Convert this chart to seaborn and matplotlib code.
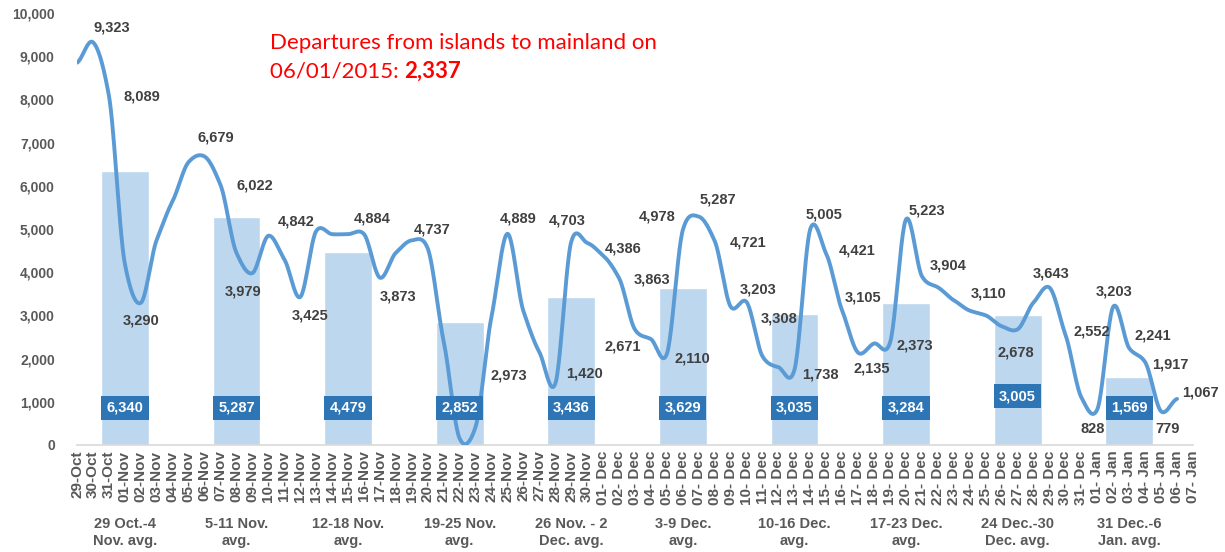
import numpy as np
import pandas as pd
import matplotlib
matplotlib.use("Agg")
import matplotlib.pyplot as plt
import seaborn as sns

# daily departures, 29-Oct-2014 .. 06-Jan-2015
days = pd.date_range("2014-10-29", "2015-01-07")
day_labels = [d.strftime("%d-%b") if d.month in (10, 11) else d.strftime("%d- %b") for d in days]

daily = [
    8850, 9323, 8089, 4200, 3290, 4750, 5650, 6550, 6679, 6022,
    4450, 3979, 4842, 4300, 3425, 4950, 4880, 4880, 4884, 3873,
    4450, 4737, 4550, 2400, 150, 420, 2973, 4889, 3100, 2150,
    1420, 4703, 4680, 4386, 3863, 2671, 2450, 2110, 4978, 5287,
    4721, 3203, 3308, 2050, 1800, 1738, 5005, 4421, 3105, 2135,
    2350, 2373, 5223, 3904, 3650, 3350, 3110, 3000, 2750, 2678,
    3300, 3643, 2552, 1100, 828, 3203, 2241, 1917, 779, 1067,
]

# weekly averages (bar centred on the middle day of each week)
week_names = [
    "29 Oct.-4\nNov. avg.", "5-11 Nov.\navg.", "12-18 Nov.\navg.", "19-25 Nov.\navg.",
    "26 Nov. - 2\nDec. avg.", "3-9 Dec.\navg.", "10-16 Dec.\navg.", "17-23 Dec.\navg.",
    "24 Dec.-30\nDec. avg.", "31 Dec.-6\nJan. avg.",
]
week_mid = [3, 10, 17, 24, 31, 38, 45, 52, 59, 66]
week_avg = [6340, 5287, 4479, 2852, 3436, 3629, 3035, 3284, 3005, 1569]

# which daily points carry a label, and where the label sits (pixels from the point)
label_offsets = {
    1: (19, 15), 2: (33, -1), 4: (0, -18), 8: (11, 19), 9: (34, -1), 11: (-9, -18),
    12: (28, 14), 14: (10, -18), 18: (8, 16), 19: (18, -19), 21: (20, 11), 26: (17, -59),
    27: (11, 15), 30: (29, 10), 31: (-4, 21), 33: (20, 7), 34: (33, -1), 35: (-12, -17),
    37: (25, -5), 38: (-26, 13), 39: (19, 17), 40: (33, -1), 41: (27, 17), 42: (32, -16),
    45: (26, -5), 46: (14, 14), 47: (31, 4), 48: (21, 13), 49: (14, -16), 51: (25, -3),
    52: (21, 9), 53: (26, 11), 56: (19, 17), 59: (-2, -23), 61: (2, 14), 62: (26, 3),
    64: (-5, -20), 65: (1, 15), 66: (24, 13), 67: (25, -2), 68: (6, -18), 69: (23, 6),
}
box_y = [860, 860, 860, 860, 860, 860, 860, 860, 1130, 860]


def smooth(vals, n=24, tension=0.8):
    # Catmull-Rom style curve through the points, close to Excel's smoothed line
    y = np.asarray(vals, dtype=float)
    p = np.concatenate([[y[0]], y, [y[-1]]])
    t = np.linspace(0, 1, n, endpoint=False)
    h00 = 2 * t**3 - 3 * t**2 + 1
    h10 = t**3 - 2 * t**2 + t
    h01 = -2 * t**3 + 3 * t**2
    h11 = t**3 - t**2
    xs, ys = [], []
    for i in range(len(y) - 1):
        m1 = tension * (p[i + 2] - p[i]) / 2
        m2 = tension * (p[i + 3] - p[i + 1]) / 2
        xs.append(i + t)
        ys.append(h00 * p[i + 1] + h10 * m1 + h01 * p[i + 2] + h11 * m2)
    xs.append([len(y) - 1])
    ys.append([y[-1]])
    return np.concatenate(xs), np.concatenate(ys)


sns.set_theme(style="white")
plt.rcParams["font.family"] = ["Liberation Sans", "DejaVu Sans"]
narrow = ["Liberation Sans Narrow", "Liberation Sans", "DejaVu Sans"]
grey = "#595959"

fig = plt.figure(figsize=(12.25, 5.52), dpi=100)
ax = fig.add_axes([77 / 1225, 1 - 445 / 552, (1193 - 77) / 1225, (445 - 13) / 552])

sns.barplot(x=week_mid, y=week_avg, native_scale=True, width=3 / 7, color="#BDD7EE",
            saturation=1, errorbar=None, ax=ax, zorder=1)

sx, sy = smooth(daily)
sns.lineplot(x=sx, y=sy, sort=False, estimator=None, color="#5B9BD5", linewidth=2.8,
             ax=ax, zorder=3)

for i, (dx, dy) in label_offsets.items():
    ax.annotate(f"{daily[i]:,}", (i, daily[i]), xytext=(dx, dy), textcoords="offset pixels",
                ha="center", va="center", fontsize=10.5, fontweight="bold", color="#404040",
                zorder=4)

for x, v, by in zip(week_mid, week_avg, box_y):
    ax.text(x, by, f"{v:,}", ha="center", va="center", fontsize=10.5, fontweight="bold",
            color="white", zorder=5,
            bbox=dict(boxstyle="square,pad=0.36", fc="#2E75B6", ec="none"))

ax.set_xlim(0, 70)
ax.set_ylim(0, 10000)
ax.set_xticks(range(len(day_labels)))
ax.set_xticklabels(day_labels, rotation=90, fontsize=11, fontweight="bold", color=grey,
                   family=narrow)
ax.set_yticks(range(0, 10001, 1000))
ax.set_yticklabels([f"{v:,}" for v in range(0, 10001, 1000)], fontsize=10,
                   fontweight="bold", color=grey)
ax.tick_params(axis="both", length=0)
ax.tick_params(axis="y", pad=16)
ax.tick_params(axis="x", pad=4)
ax.set_xlabel("")
ax.set_ylabel("")
for side in ["left", "right", "top"]:
    ax.spines[side].set_visible(False)
ax.spines["bottom"].set_color("#D9D9D9")
ax.spines["bottom"].set_linewidth(1.2)

for x, name in zip(week_mid, week_names):
    ax.annotate(name, (x, 0), xytext=(0, -72), textcoords="offset pixels", ha="center",
                va="top", fontsize=10.5, fontweight="bold", color=grey, family=narrow,
                linespacing=1.3)

red = "#FF0000"
fig.text(270 / 1225, 1 - 49 / 552, "Departures from islands to mainland on", color=red,
         fontsize=16, family="Lato", va="baseline")
t2 = fig.text(270 / 1225, 1 - 78 / 552, "06/01/2015: ", color=red, fontsize=16,
              family="Lato", va="baseline")
fig.canvas.draw()
x_end = t2.get_window_extent().x1 / fig.bbox.width
fig.text(x_end, 1 - 78 / 552, "2,337", color=red, fontsize=16, family="Lato",
         fontweight="bold", va="baseline")

fig.savefig("out.png", dpi=100)
